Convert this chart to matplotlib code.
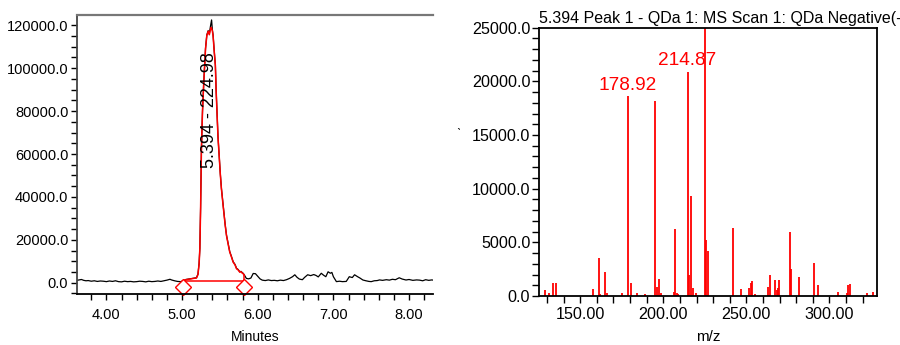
import matplotlib
matplotlib.use('Agg')

import matplotlib.pyplot as plt
from matplotlib.ticker import MultipleLocator, FormatStrFormatter

plt.rcParams['font.family'] = ['Liberation Sans', 'DejaVu Sans']

# chromatogram (black trace), minutes vs intensity
chrom_t = [3.61, 3.64, 3.67, 3.70, 3.73, 3.76, 3.80, 3.84, 3.88, 3.92, 3.96, 4.00,
           4.04, 4.08, 4.12, 4.16, 4.20, 4.24, 4.28, 4.32, 4.36, 4.40, 4.44, 4.48,
           4.52, 4.56, 4.60, 4.64, 4.68, 4.72, 4.76, 4.80, 4.84, 4.86, 4.90, 4.94,
           4.98, 5.01, 5.05, 5.10, 5.15, 5.19, 5.21, 5.225, 5.235, 5.245, 5.256,
           5.27, 5.287, 5.31, 5.327, 5.345, 5.36, 5.375, 5.39, 5.40, 5.41, 5.425,
           5.44, 5.45, 5.463, 5.475, 5.49, 5.505, 5.52, 5.54, 5.556, 5.57, 5.587,
           5.61, 5.63, 5.65, 5.675, 5.70, 5.72, 5.74, 5.763, 5.78, 5.795, 5.807,
           5.82, 5.85, 5.88, 5.91, 5.94, 5.97, 6.00, 6.03, 6.06, 6.10, 6.14, 6.18,
           6.22, 6.26, 6.30, 6.34, 6.38, 6.42, 6.46, 6.49, 6.52, 6.55, 6.59, 6.62,
           6.66, 6.70, 6.74, 6.77, 6.80, 6.84, 6.87, 6.90, 6.93, 6.96, 6.98, 7.00,
           7.04, 7.08, 7.12, 7.17, 7.21, 7.25, 7.28, 7.32, 7.35, 7.39, 7.43, 7.47,
           7.50, 7.54, 7.58, 7.61, 7.65, 7.70, 7.74, 7.78, 7.82, 7.87, 7.91, 7.96,
           8.00, 8.05, 8.10, 8.14, 8.18, 8.22, 8.26, 8.30, 8.32]
chrom_y = [1100, 1300, 1500, 1100, 900, 1000, 700, 900, 600, 800, 700, 500,
           800, 600, 900, 500, 400, 700, 500, 600, 400, 500, 700, 600,
           400, 700, 500, 600, 800, 600, 900, 1200, 1600, 1300, 900, 600,
           500, 800, 1500, 1800, 2100, 2300, 4000, 9000, 16000, 35000, 62700,
           80000, 93700, 109300, 115500, 117500, 116000, 119500, 122500, 118000, 115500, 108000,
           101500, 90000, 78200, 68000, 59500, 51000, 44000, 37000, 31600, 27000, 22200,
           18000, 14500, 12500, 9800, 8500, 6700, 6200, 5100, 5300, 4700, 4400,
           3800, 2000, 1800, 2200, 4300, 4200, 3000, 1800, 1200, 1000, 1300, 1000,
           1100, 900, 1200, 1000, 1400, 2000, 2800, 3700, 2500, 1700, 1400, 2500,
           3700, 3300, 3800, 3400, 2700, 4400, 3500, 2800, 5100, 4400, 4800, 2800,
           500, 700, 500, 600, 2800, 2400, 3700, 2800, 2200, 1260, 900, 600,
           500, 900, 1000, 1300, 1100, 1400, 1200, 1600, 1400, 2300, 1700, 1260,
           1500, 1100, 1300, 1200, 900, 1400, 1100, 1300, 1200]

# integrated peak (red)
peak_t = [5.01, 5.05, 5.10, 5.15, 5.19, 5.21, 5.225, 5.235, 5.245, 5.256, 5.27,
          5.287, 5.31, 5.327, 5.345, 5.36, 5.375, 5.385, 5.40, 5.41, 5.425, 5.44,
          5.45, 5.463, 5.475, 5.49, 5.505, 5.52, 5.54, 5.556, 5.57, 5.587, 5.61,
          5.63, 5.65, 5.675, 5.70, 5.72, 5.74, 5.763, 5.78, 5.795, 5.807, 5.82]
peak_y = [800, 1400, 1700, 2000, 2200, 3800, 8800, 15800, 34800, 62500, 79800,
          93500, 109000, 115200, 117200, 115600, 118000, 119000, 117500, 115000, 107800, 101300,
          89800, 78000, 67800, 59300, 50800, 43800, 36800, 31400, 26800, 22000, 17800,
          14300, 12300, 9600, 8300, 6500, 6000, 4900, 5100, 4500, 4200, 3600]
peak_base = 800
peak_label = "5.394 - 224.98"

# mass spectrum
mz = [128.7, 131.1, 133.7, 135.3, 157.4, 161.1, 161.7, 164.9, 166.3, 175.1,
      178.92, 180.3, 184.3, 189.0, 195.0, 196.4, 197.2, 198.4, 206.4, 207.0,
      208.0, 209.0, 214.87, 215.7, 216.9, 218.1, 219.7, 224.98, 225.9, 227.1,
      241.8, 246.8, 251.4, 252.6, 253.6, 255.2, 262.9, 264.3, 267.3, 268.3,
      268.9, 269.9, 276.5, 277.1, 281.5, 290.8, 293.2, 305.2, 310.4, 311.4,
      312.7, 322.9, 326.1]
intensity = [560, 250, 1180, 1250, 685, 3580, 190, 2270, 250, 310,
             18680, 1180, 250, 190, 18210, 810, 1620, 250, 370, 6260,
             250, 190, 20860, 1960, 9280, 720, 250, 25000, 5230, 4230,
             6380, 620, 780, 1180, 1400, 190, 870, 1960, 1490, 560,
             780, 1490, 5950, 2520, 1740, 3050, 1030, 340, 250, 1030,
             1090, 250, 400]
ms_labels = ["178.92", "214.87"]
ms_title = "5.394 Peak 1 - QDa 1: MS Scan 1: QDa Negative(-"

red = '#ff0000'

fig = plt.figure(figsize=(9, 3.45), dpi=100)

# ---- left: chromatogram
ax1 = fig.add_axes([0.0852, 0.1478, 0.3962, 0.8087])
ax1.plot(chrom_t, chrom_y, color='black', lw=0.9)
ax1.plot(peak_t, peak_y, color=red, lw=1.1)
ax1.plot([peak_t[0], peak_t[-1], peak_t[-1]], [peak_base, peak_base, peak_y[-1]],
         color=red, lw=1.1)
ax1.plot([peak_t[0], peak_t[-1]], [-2150, -2150], ls='none', marker='D', ms=8.5,
         mfc='white', mec=red, mew=1.0, clip_on=False)
ax1.text(5.366, 80500, peak_label, rotation=90, ha='center', va='center', fontsize=13)

ax1.set_xlim(3.607, 8.32)
ax1.set_ylim(-5268, 124800)
ax1.xaxis.set_major_locator(MultipleLocator(1))
ax1.xaxis.set_minor_locator(MultipleLocator(0.2))
ax1.yaxis.set_major_locator(MultipleLocator(20000))
ax1.yaxis.set_minor_locator(MultipleLocator(5000))
ax1.xaxis.set_major_formatter(FormatStrFormatter('%.2f'))
ax1.yaxis.set_major_formatter(FormatStrFormatter('%.1f'))
ax1.tick_params(which='both', direction='out', length=4, width=1, labelsize=10.5, pad=2)
ax1.tick_params(axis='x', which='major', pad=6)
ax1.spines['right'].set_visible(False)
ax1.spines['top'].set_color('#777777')
ax1.spines['top'].set_linewidth(1.6)
ax1.spines['left'].set_color('#444444')
ax1.spines['left'].set_linewidth(1.3)
ax1.spines['bottom'].set_linewidth(1.3)
ax1.set_xlabel("Minutes", fontsize=10, labelpad=6)

# ---- right: mass spectrum
ax2 = fig.add_axes([0.5992, 0.1420, 0.3756, 0.7777])
ax2.vlines(mz, 0, intensity, color=red, lw=1.3)
ax2.text(178.5, 19240, ms_labels[0], color=red, ha='center', va='baseline', fontsize=13.7)
ax2.text(214.5, 21510, ms_labels[1], color=red, ha='center', va='baseline', fontsize=13.7)
ax2.text(0, 1.019, ms_title, transform=ax2.transAxes, ha='left', va='baseline',
         fontsize=11.5, clip_on=False)
fig.text(458.5 / 900, 1 - 135 / 345, 'ˋ', fontsize=9, ha='center', va='center')

ax2.set_xlim(125.3, 328.9)
ax2.set_ylim(0, 25000)
ax2.xaxis.set_major_locator(MultipleLocator(50))
ax2.xaxis.set_minor_locator(MultipleLocator(10))
ax2.yaxis.set_major_locator(MultipleLocator(5000))
ax2.yaxis.set_minor_locator(MultipleLocator(1000))
ax2.xaxis.set_major_formatter(FormatStrFormatter('%.2f'))
ax2.yaxis.set_major_formatter(FormatStrFormatter('%.1f'))
ax2.tick_params(which='both', direction='out', length=5, width=1, labelsize=11.6, pad=1.5)
ax2.tick_params(axis='x', which='major', pad=3)
for s in ax2.spines.values():
    s.set_linewidth(1.3)
ax2.set_xlabel("m/z", fontsize=10.9, labelpad=6)

fig.savefig("out.png", dpi=100)
